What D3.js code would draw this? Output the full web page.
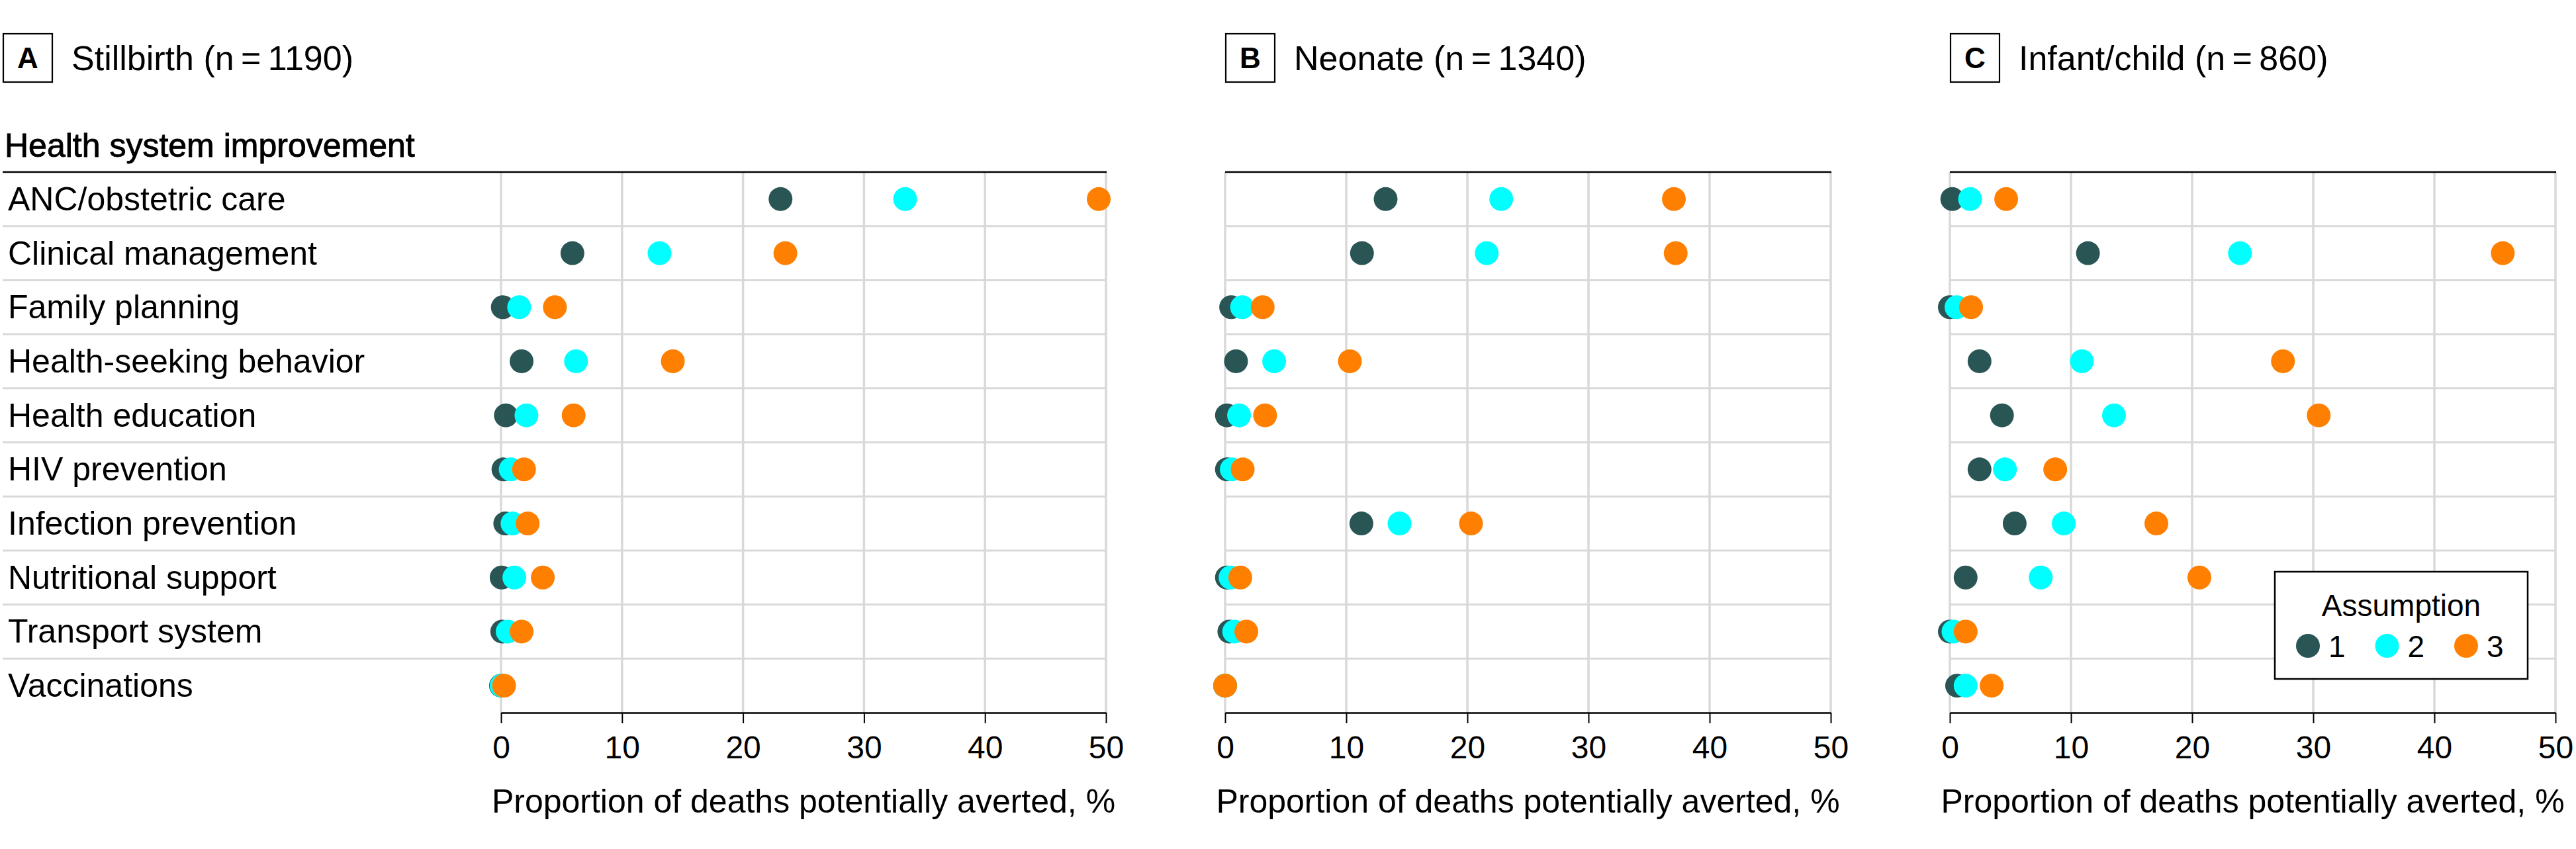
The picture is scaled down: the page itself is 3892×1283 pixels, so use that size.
<!DOCTYPE html>
<html><head><meta charset="utf-8">
<script src="https://cdn.jsdelivr.net/npm/d3@7"></script>
<style>
body{margin:0;background:#fff}
svg text{font-family:"Liberation Sans",Arial,Helvetica,sans-serif;fill:#000}
</style>
</head><body>
<svg id="chart" width="3892" height="1283"></svg>
<script>
// ---------------- data ----------------
const categories = [
  "ANC/obstetric care","Clinical management","Family planning","Health-seeking behavior",
  "Health education","HIV prevention","Infection prevention","Nutritional support",
  "Transport system","Vaccinations"
];
const panelLetters = ["A","B","C"];
const panelTitles = ["Stillbirth (n\u2009=\u20091190)","Neonate (n\u2009=\u20091340)","Infant/child (n\u2009=\u2009860)"];
const groupTitle = "Health system improvement";
const axisTitle = "Proportion of deaths potentially averted, %";
const tickValues = [0,10,20,30,40,50];
const legendTitle = "Assumption";
const assumptionLabels = ["1","2","3"];

const stillbirth1 = [23.1, 5.9, 0.15, 1.7, 0.4, 0.2, 0.35, 0.05, 0.1, 0];
const stillbirth2 = [33.4, 13.1, 1.5, 6.2, 2.1, 0.8, 0.95, 1.1, 0.55, 0.05];
const stillbirth3 = [49.4, 23.5, 4.45, 14.2, 6.0, 1.9, 2.2, 3.45, 1.7, 0.25];

const neonate1 = [13.25, 11.3, 0.5, 0.9, 0.15, 0.15, 11.25, 0.15, 0.35, 0];
const neonate2 = [22.8, 21.6, 1.4, 4.05, 1.15, 0.55, 14.4, 0.45, 0.75, 0];
const neonate3 = [37.05, 37.2, 3.1, 10.3, 3.3, 1.45, 20.3, 1.25, 1.75, 0];

const child1 = [0.2, 11.4, 0, 2.45, 4.3, 2.45, 5.35, 1.3, 0, 0.6];
const child2 = [1.67, 23.95, 0.55, 10.9, 13.55, 4.55, 9.4, 7.5, 0.3, 1.3];
const child3 = [4.65, 45.65, 1.75, 27.5, 30.45, 8.7, 17.05, 20.6, 1.3, 3.45];

// ---------------- styling / layout ----------------
const colors = ["#2a5555","#00ffff","#ff8000"];
const gridColor = "#d9d9d9";
const panelSeries = [
  [stillbirth1, stillbirth2, stillbirth3],
  [neonate1, neonate2, neonate3],
  [child1, child2, child3]
];
const panelRanges = [[757,1671],[1851,2766],[2946,3861]];
const plotTop = 260, plotBottom = 1077;
const dotR = 18;

const svg = d3.select("#chart");
const y = d3.scaleBand().domain(categories).range([plotTop, plotBottom]).padding(0);

panelSeries.forEach((series, p) => {
  const [x0, x1] = panelRanges[p];
  const x = d3.scaleLinear().domain([0,50]).range([x0, x1]);
  const g = svg.append("g");
  const lineStart = p === 0 ? 4 : x0;

  // panel label box + title
  const boxX = p === 0 ? 4 : x0;
  g.append("rect").attr("x", boxX + 1).attr("y", 51).attr("width", 74).attr("height", 73)
    .attr("fill","none").attr("stroke","#000").attr("stroke-width",2.2);
  g.append("text").attr("x", boxX + 38).attr("y", 103).attr("text-anchor","middle")
    .attr("font-size",44).attr("font-weight","bold").text(panelLetters[p]);
  g.append("text").attr("x", boxX + 104).attr("y", 106)
    .attr("font-size",52).text(panelTitles[p]);

  // vertical gridlines
  g.selectAll(".vg").data(tickValues).join("line")
    .attr("x1", d => x(d)).attr("x2", d => x(d))
    .attr("y1", plotTop).attr("y2", plotBottom)
    .attr("stroke", gridColor).attr("stroke-width", 3.5);

  // horizontal gridlines between rows
  g.selectAll(".hg").data(categories.slice(1)).join("line")
    .attr("x1", lineStart).attr("x2", x(50))
    .attr("y1", d => y(d)).attr("y2", d => y(d))
    .attr("stroke", gridColor).attr("stroke-width", 3);

  // top line
  g.append("line").attr("x1", lineStart).attr("x2", x(50) + 1)
    .attr("y1", plotTop).attr("y2", plotTop).attr("stroke","#000").attr("stroke-width",2.5);

  // x axis
  const ax = g.append("g").attr("transform", `translate(0,${plotBottom})`)
    .call(d3.axisBottom(x).tickValues(tickValues).tickSize(16).tickSizeOuter(0).tickPadding(19).tickFormat(d3.format("d")));
  ax.select(".domain").attr("stroke","#000").attr("stroke-width",2.5);
  ax.selectAll(".tick line").attr("stroke","#000").attr("stroke-width",2);
  ax.selectAll(".tick text").attr("font-size",48).attr("font-family",null).attr("fill","#000");

  g.append("text").attr("x", (x0 + x1)/2).attr("y", 1228).attr("text-anchor","middle")
    .attr("font-size",50).text(axisTitle);

  // dots (assumption 1, then 2, then 3 on top)
  series.forEach((vals, s) => {
    g.selectAll(".dot" + s).data(vals).join("circle")
      .attr("cx", d => x(d))
      .attr("cy", (d, i) => y(categories[i]) + y.bandwidth()/2)
      .attr("r", dotR).attr("fill", colors[s]);
  });

  // category labels (first panel only)
  if (p === 0) {
    g.append("text").attr("x", 7).attr("y", 237).attr("font-size",50)
      .attr("stroke","#000").attr("stroke-width",0.9).text(groupTitle);
    g.selectAll(".cat").data(categories).join("text")
      .attr("x", 12).attr("y", d => y(d) + y.bandwidth()/2 + 17)
      .attr("font-size",50).text(d => d);
  }

  // legend (last panel)
  if (p === 2) {
    const lg = g.append("g");
    lg.append("rect").attr("x",3437).attr("y",864).attr("width",382).attr("height",162)
      .attr("fill","#fff").attr("stroke","#000").attr("stroke-width",2.5);
    lg.append("text").attr("x",3628).attr("y",931).attr("text-anchor","middle")
      .attr("font-size",46).text(legendTitle);
    const legX = d3.scalePoint().domain(assumptionLabels).range([3487,3726]);
    assumptionLabels.forEach((lab, i) => {
      lg.append("circle").attr("cx", legX(lab)).attr("cy", 976).attr("r", dotR).attr("fill", colors[i]);
      lg.append("text").attr("x", legX(lab) + 31).attr("y", 993).attr("font-size",46).text(lab);
    });
  }
});
</script>
</body></html>
